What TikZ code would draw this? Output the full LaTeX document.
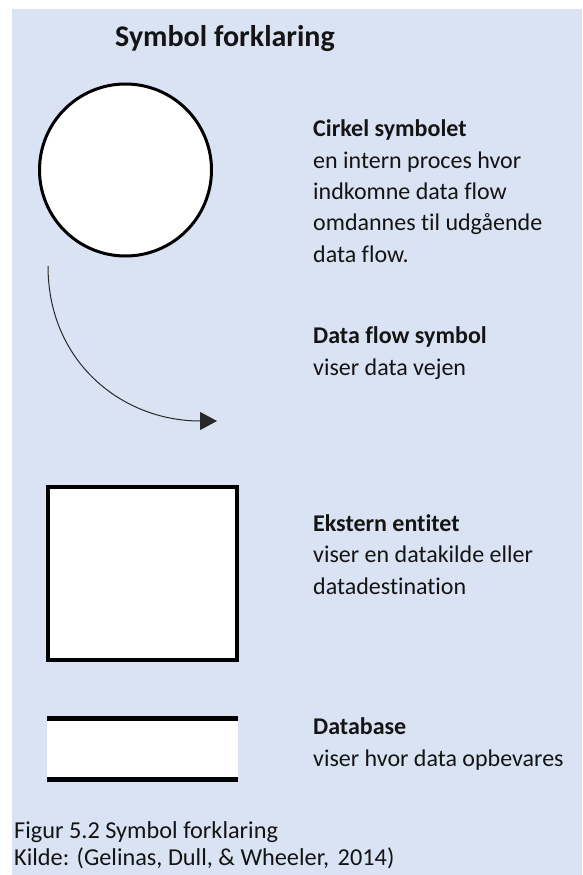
\documentclass[tikz,border=0pt]{standalone}
\usepackage{fontspec}
\setmainfont{Carlito}[Ligatures=NoCommon]
\usetikzlibrary{arrows.meta}
\definecolor{bgblue}{RGB}{218,227,243}
\definecolor{flowgray}{RGB}{40,40,40}
\definecolor{txt}{RGB}{20,20,20}
\tikzset{
  body/.style={anchor=base west, align=left, inner sep=0pt, text=txt,
    font=\fontsize{24}{31.3}\selectfont},
  titletext/.style={anchor=base, inner sep=0pt, text=txt,
    font=\fontsize{30}{34}\selectfont\bfseries},
  captext/.style={anchor=base west, align=left, inner sep=0pt, text=txt,
    font=\fontsize{24.3}{26.5}\selectfont},
}
\begin{document}
\begin{tikzpicture}[x=1pt,y=-1pt]
\useasboundingbox (0,0) rectangle (582,875);
\fill[bgblue] (12,9) rectangle (582,875);
% title
\node[titletext] (title) at (225,47) {Symbol forklaring};
% circle symbol
\node[circle, draw=black, fill=white, line width=3pt, minimum size=172pt, inner sep=0pt] (circ) at (125.5,170) {};
\node[body] (circtxt) at (313,262) {\textbf{Cirkel symbolet}\\en intern proces hvor\\indkomne data flow\\omdannes til udgående\\data flow.};
% data flow symbol
\coordinate (flowstart) at (48,266);
\coordinate (flowend) at (217,421);
\draw[flowgray, line width=1pt, -{Triangle[length=17pt,width=18pt]}]
  (flowstart) .. controls (48,362) and (122,421) .. (flowend);
\node[body] (flowtxt) at (313,375) {\textbf{Data flow symbol}\\viser data vejen};
% external entity
\node[rectangle, draw=black, fill=white, line width=4pt, minimum width=189pt, minimum height=173pt, inner sep=0pt] (entity) at (142.5,573.5) {};
\node[body] (enttxt) at (313,594) {\textbf{Ekstern entitet}\\viser en datakilde eller\\datadestination};
% database
\node[rectangle, fill=white, minimum width=191pt, minimum height=60.5pt, inner sep=0pt] (db) at (142.5,749.25) {};
\draw[line width=5pt] (db.north west) -- (db.north east);
\draw[line width=5pt] (db.south west) -- (db.south east);
\node[body] (dbtxt) at (313,766) {\textbf{Database}\\viser hvor data opbevares};
% caption
\node[captext] (caption) at (14,865) {Figur 5.2 Symbol forklaring\\Kilde: (Gelinas, Dull, \& Wheeler,\hspace{3pt} 2014)};
\end{tikzpicture}
\end{document}
